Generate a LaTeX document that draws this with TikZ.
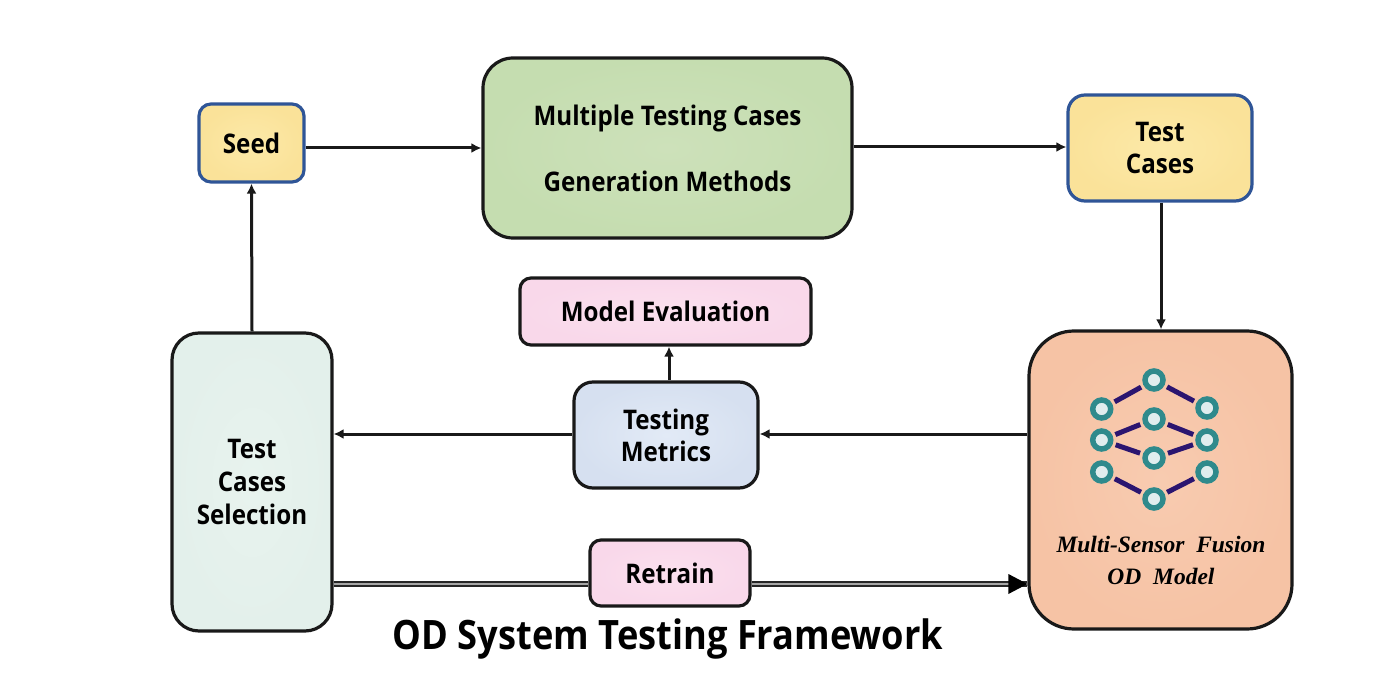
\documentclass[tikz,border=0pt]{standalone}
\usepackage{fontspec}
\setmainfont[FakeStretch=0.895]{Open Sans}
\newfontfamily\modelfont{Liberation Serif}
\usetikzlibrary{arrows.meta,positioning}
\definecolor{edgeblue}{HTML}{2F5597}
\definecolor{ringteal}{HTML}{2F8A8C}
\definecolor{linkpurple}{HTML}{2B1570}
\definecolor{yellowin}{HTML}{FCE9A8}
\definecolor{yellowout}{HTML}{FAE299}
\definecolor{greenin}{HTML}{CDE1BA}
\definecolor{greenout}{HTML}{C5DDB0}
\definecolor{pinkin}{HTML}{FBE0EE}
\definecolor{pinkout}{HTML}{F9D8EA}
\definecolor{bluein}{HTML}{E2EAF6}
\definecolor{blueout}{HTML}{D6E0F0}
\definecolor{mintin}{HTML}{E8F3EE}
\definecolor{mintout}{HTML}{E3F0EB}
\definecolor{peachin}{HTML}{F8CBB0}
\definecolor{peachout}{HTML}{F6C3A5}
\tikzset{
  x=1pt,y=-1pt,
  box/.style={draw=black!90,line width=3.2pt,align=center,inner sep=0pt,font=\fontsize{27}{32}\selectfont\bfseries,text=black},
  seedbox/.style={box,draw=edgeblue,rounded corners=12pt,inner color=yellowin,outer color=yellowout},
  pinkbox/.style={box,rounded corners=11pt,inner color=pinkin,outer color=pinkout},
  flow/.style={-{Latex[length=10pt,width=10pt]},line width=3pt,black!90},
  ring/.style={circle,draw=ringteal,line width=5.5pt,fill=white!85!ringteal,minimum size=18pt,inner sep=0pt},
  link/.style={line width=5pt,linkpurple,shorten >=3pt,shorten <=3pt},
}
\begin{document}
\begin{tikzpicture}
\useasboundingbox (0,0) rectangle (1400,700);
% boxes
\node[seedbox,minimum width=105pt,minimum height=78pt] (seed) at (251.5,143) {Seed};
\node[box,rounded corners=30pt,inner color=greenin,outer color=greenout,minimum width=369pt,minimum height=180pt,font=\fontsize{27}{66}\selectfont\bfseries] (gen) at (667.5,148) {Multiple Testing Cases\\Generation Methods};
\node[seedbox,rounded corners=17pt,minimum width=184pt,minimum height=106pt] (cases) at (1160,148) {Test\\Cases};
\node[pinkbox,minimum width=291pt,minimum height=67pt] (eval) at (665.5,311.5) {Model Evaluation};
\node[box,rounded corners=19pt,inner color=bluein,outer color=blueout,minimum width=184pt,minimum height=106pt] (metrics) at (666,435) {Testing\\Metrics};
\node[box,rounded corners=27pt,inner color=mintin,outer color=mintout,minimum width=160pt,minimum height=298pt,font=\fontsize{27}{33}\selectfont\bfseries] (select) at (252,482) {Test\\Cases\\Selection};
\node[pinkbox,minimum width=160pt,minimum height=66pt] (retrain) at (670,573) {Retrain};
\node[box,rounded corners=45pt,inner color=peachin,outer color=peachout,minimum width=263pt,minimum height=298pt] (model) at (1160.5,480) {};
% network
\foreach \n/\x/\y in {a/1101.7/409,b/1101.7/440,c/1101.7/472,d/1154/380,e/1154/419,f/1154/458,g/1154/499,h/1207/408,i/1207/440,j/1207/472}
  \node[ring] (\n) at (\x,\y) {};
\foreach \p/\q in {a/d,b/e,b/f,c/g,d/h,e/i,f/i,g/j}
  \draw[link] (\p) -- (\q);
\node[font=\fontsize{23.5}{32}\modelfont\bfseries\itshape,align=center] (modeltext) at (1161,560) {Multi-Sensor\ \ Fusion\\OD\ \ Model};
% title
\node[font=\fontsize{40.5}{44}\selectfont\bfseries] (title) at (668,639) {OD System Testing Framework};
% connectors
\coordinate (selout) at (select.east |- 0,584);
\coordinate (retin) at (retrain.west |- 0,584);
\coordinate (retout) at (retrain.east |- 0,584);
\coordinate (modin) at (model.west |- 0,584);
\draw[flow] (seed.east |- 0,148) -- (gen.west |- 0,148);
\draw[flow] (gen.east |- 0,147) -- (cases.west |- 0,147);
\draw[flow] (cases.south -| 1161,0) -- (model.north -| 1161,0);
\draw[flow] (model.west |- 0,434) -- (metrics.east |- 0,434);
\draw[flow] (metrics.west |- 0,434) -- (select.east |- 0,434);
\draw[flow] (metrics.north -| 669,0) -- (eval.south -| 669,0);
\draw[flow] (select.north) -- (seed.south);
\foreach \s/\t in {selout/retin,retout/modin}
  \draw[line width=2pt,black!85,double=black!35,double distance=2.6pt] (\s) -- (\t);
\fill[black] (modin) -- ++(-19,-10) -- ++(0,20) -- cycle;
\end{tikzpicture}
\end{document}
